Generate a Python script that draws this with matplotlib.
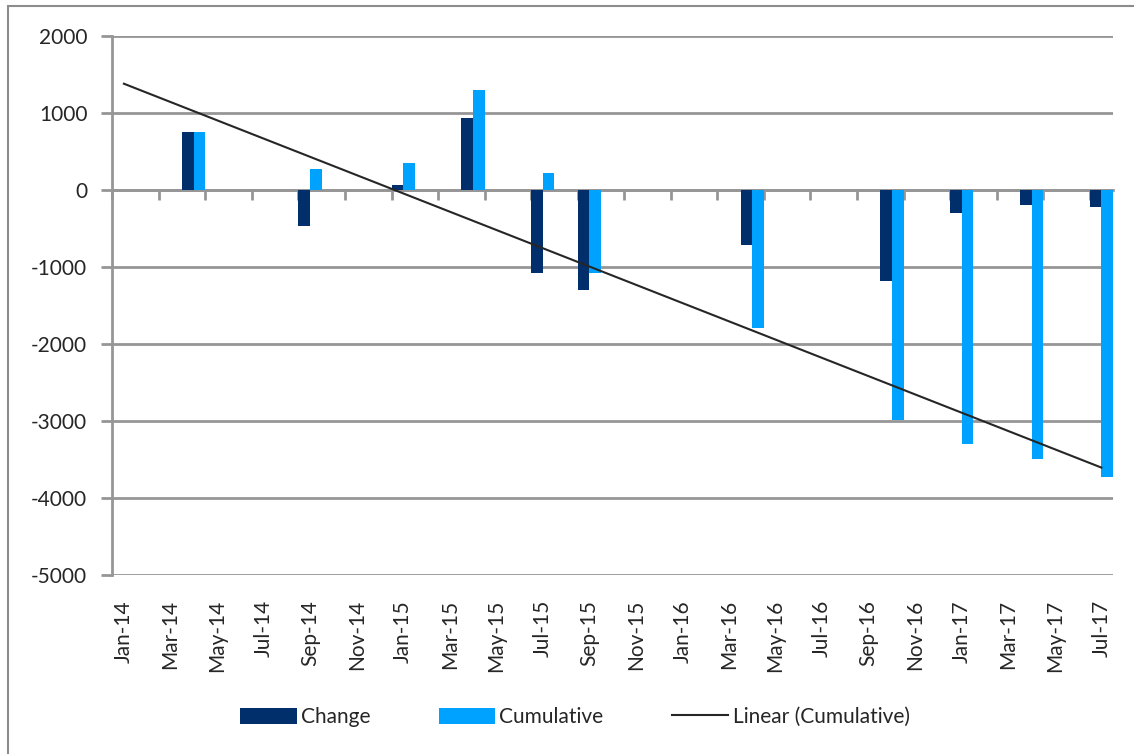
import numpy as np
import matplotlib
matplotlib.use('Agg')
import matplotlib.pyplot as plt
from matplotlib.patches import Rectangle

plt.rcParams['font.family'] = ['Lato', 'DejaVu Sans']
plt.rcParams['axes.unicode_minus'] = False

# month index from Jan-14 (0) for each bar pair
months = [3, 8, 12, 15, 18, 20, 27, 33, 36, 39, 42]
change = [750, -470, 60, 940, -1080, -1300, -720, -1180, -300, -190, -225]
cumulative = [750, 275, 345, 1295, 215, -1080, -1795, -2990, -3300, -3500, -3725]

# linear trendline endpoints (Jan-14 centre, Jul-17 centre)
trend_x = [0.5, 42.5]
trend_y = [1380, -3605]

tick_labels = ['Jan-14', 'Mar-14', 'May-14', 'Jul-14', 'Sep-14', 'Nov-14',
               'Jan-15', 'Mar-15', 'May-15', 'Jul-15', 'Sep-15', 'Nov-15',
               'Jan-16', 'Mar-16', 'May-16', 'Jul-16', 'Sep-16', 'Nov-16',
               'Jan-17', 'Mar-17', 'May-17', 'Jul-17']

DARK = '#002F6C'
LIGHT = '#00A2FF'
GRID = '#969696'
TEXT = '#262626'


def main():
    fig = plt.figure(figsize=(11.34, 7.54), dpi=100)
    ax = fig.add_axes([0.099, 0.2374, 0.8825, 0.7149])

    x = np.array(months, dtype=float)
    b1 = ax.bar(x, change, width=0.5, align='edge', color=DARK, label='Change', zorder=3)
    b2 = ax.bar(x + 0.5, cumulative, width=0.5, align='edge', color=LIGHT,
                label='Cumulative', zorder=3)
    ln, = ax.plot(trend_x, trend_y, color='#262626', lw=1.5,
                  label='Linear (Cumulative)', zorder=4)

    ax.set_xlim(0, 43)
    ax.set_ylim(-5000, 2000)
    ax.set_yticks(np.arange(-5000, 2001, 1000))
    ax.yaxis.grid(True, color=GRID, lw=2)
    ax.set_axisbelow(True)

    for s in ['top', 'right']:
        ax.spines[s].set_visible(False)
    ax.spines['left'].set_color(GRID)
    ax.spines['left'].set_linewidth(2)
    ax.spines['bottom'].set_position(('data', 0))
    ax.spines['bottom'].set_color(GRID)
    ax.spines['bottom'].set_linewidth(2)
    ax.spines['bottom'].set_zorder(2)

    # tick marks on the zero line at month boundaries
    ax.set_xticks(np.arange(0, 43, 2))
    ax.tick_params(axis='x', direction='out', length=7, width=2, color=GRID,
                   labelbottom=False)
    ax.tick_params(axis='y', direction='out', length=8, width=2, color=GRID,
                   labelsize=15, labelcolor=TEXT, pad=10)

    # date labels sit at the bottom of the plot, centred on each month slot
    sec = ax.secondary_xaxis(0)
    sec.set_xticks(np.arange(0.5, 43, 2))
    sec.set_xticklabels(tick_labels, rotation=90, fontsize=15, color=TEXT)
    sec.tick_params(length=0, pad=18)
    sec.spines['bottom'].set_visible(False)

    fig.legend([b1, b2, ln], ['Change', 'Cumulative', 'Linear (Cumulative)'],
               loc='center', bbox_to_anchor=(0.507, 0.049), ncol=3, frameon=False,
               fontsize=15, handlelength=2.7, handleheight=0.8,
               columnspacing=3.3, handletextpad=0.2, labelcolor=TEXT)

    # chart area border (left and top edges visible)
    fig.patches.append(Rectangle((8 / 1134, -0.1), 1.2, 1.1 - 6.5 / 754,
                                 transform=fig.transFigure, fill=False,
                                 edgecolor='#8c8c8c', lw=1.5))

    fig.savefig('out.png', dpi=100)


if __name__ == '__main__':
    main()
